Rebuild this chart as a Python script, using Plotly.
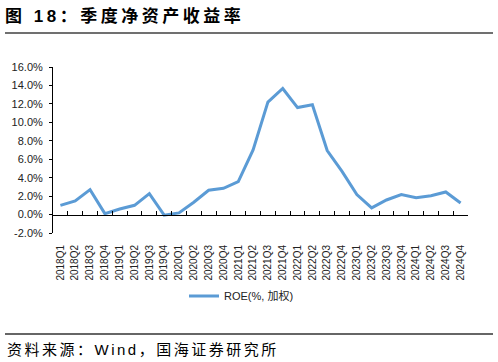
import plotly.graph_objects as go

quarters = ["2018Q1","2018Q2","2018Q3","2018Q4","2019Q1","2019Q2","2019Q3","2019Q4",
            "2020Q1","2020Q2","2020Q3","2020Q4","2021Q1","2021Q2","2021Q3","2021Q4",
            "2022Q1","2022Q2","2022Q3","2022Q4","2023Q1","2023Q2","2023Q3","2023Q4",
            "2024Q1","2024Q2","2024Q3","2024Q4"]
roe = [1.0, 1.47, 2.7, 0.1, 0.6, 1.0, 2.27, -0.07,
       0.18, 1.33, 2.63, 2.84, 3.56, 7.0, 12.2, 13.67,
       11.6, 11.9, 6.94, 4.68, 2.16, 0.72, 1.58, 2.16,
       1.83, 2.05, 2.45, 1.26]
y_ticks = [-2, 0, 2, 4, 6, 8, 10, 12, 14, 16]
y_ticktext = [f"{v:.1f}%" for v in y_ticks]
series_name = "ROE(%, 加权)"
title_text = "图 18：季度净资产收益率"
source_text = "资料来源：Wind，国海证券研究所"

W, H = 498, 362
L, R, T, B = 53, 30, 67, 129
pw, ph = W - L - R, H - T - B

def px(x):
    return (x - L) / pw

def py(y):
    return (H - B - y) / ph

fig = go.Figure()
fig.add_trace(go.Scatter(
    x=quarters, y=roe, mode="lines", name=series_name,
    line=dict(color="#5B9BD5", width=3),
    showlegend=True,
))
# invisible helper trace on the boundary axis used for the zero-line tick axis
fig.add_trace(go.Scatter(x=[-0.5, 27.5], y=[0, 0], xaxis="x2", mode="lines",
                         line=dict(width=0), hoverinfo="skip", showlegend=False))

fig.update_layout(
    width=W, height=H,
    margin=dict(l=L, r=R, t=T, b=B),
    paper_bgcolor="white", plot_bgcolor="white",
    font=dict(family="Liberation Sans, Noto Sans CJK SC", color="#000"),
    title=dict(text="<b>" + title_text + "</b>", xref="container", yref="container",
               x=5 / W, y=1 - 16 / H, xanchor="left", yanchor="middle",
               font=dict(size=17, family="Liberation Sans, Noto Sans CJK SC", color="#000")),
    xaxis=dict(type="category", categoryorder="array", categoryarray=quarters,
               range=[-0.5, 27.5], showline=False, showgrid=False, zeroline=False,
               ticks="", tickangle=-90, tickfont=dict(size=10, color="#222"),
               ticklabelstandoff=9),
    xaxis2=dict(overlaying="x", anchor="free", position=2 / 18, range=[-0.5, 27.5],
                showline=True, linecolor="#000", linewidth=1, showgrid=False,
                zeroline=False, ticks="inside", ticklen=4, tickcolor="#000",
                tickvals=[i + 0.5 for i in range(28)], showticklabels=False),
    yaxis=dict(range=[-2, 16], tickvals=y_ticks, ticktext=y_ticktext,
               showline=True, linecolor="#000", linewidth=1, ticks="outside",
               ticklen=3, tickcolor="#000", showgrid=False, zeroline=False,
               tickfont=dict(size=11, color="#222"), ticklabelstandoff=4),
    legend=dict(orientation="h", x=px(184), y=py(296), xanchor="left", yanchor="middle",
                font=dict(size=11, color="#222"), itemwidth=30, bgcolor="rgba(0,0,0,0)"),
    shapes=[
        dict(type="line", xref="paper", yref="paper", x0=px(5), x1=px(493),
             y0=py(33), y1=py(33), line=dict(color="rgb(112,112,112)", width=2)),
        dict(type="line", xref="paper", yref="paper", x0=px(5), x1=px(493),
             y0=py(334), y1=py(334), line=dict(color="#333", width=1.5)),
    ],
    annotations=[
        dict(text=" ", xref="paper", yref="paper", x=px(249), y=py(33),
             xanchor="center", yanchor="middle", showarrow=False,
             width=488, height=2, borderpad=0, borderwidth=0,
             bgcolor="rgb(112,112,112)", font=dict(size=1)),
        dict(text=source_text, xref="paper", yref="paper", x=px(5), y=py(349),
             xanchor="left", yanchor="middle", align="left", showarrow=False,
             font=dict(size=15, color="#000", family="Liberation Sans, Noto Sans CJK SC")),
    ],
)

post = (
    "document.body.style.margin='0';document.body.style.overflow='hidden';"
    "document.querySelectorAll('.gtitle').forEach(function(e){e.style.letterSpacing='3.5px';});"
    "document.querySelectorAll('.annotation-text').forEach(function(e){e.style.letterSpacing='2.5px';});"
)
fig.write_html("out.html", config={"displayModeBar": False}, post_script=post)
